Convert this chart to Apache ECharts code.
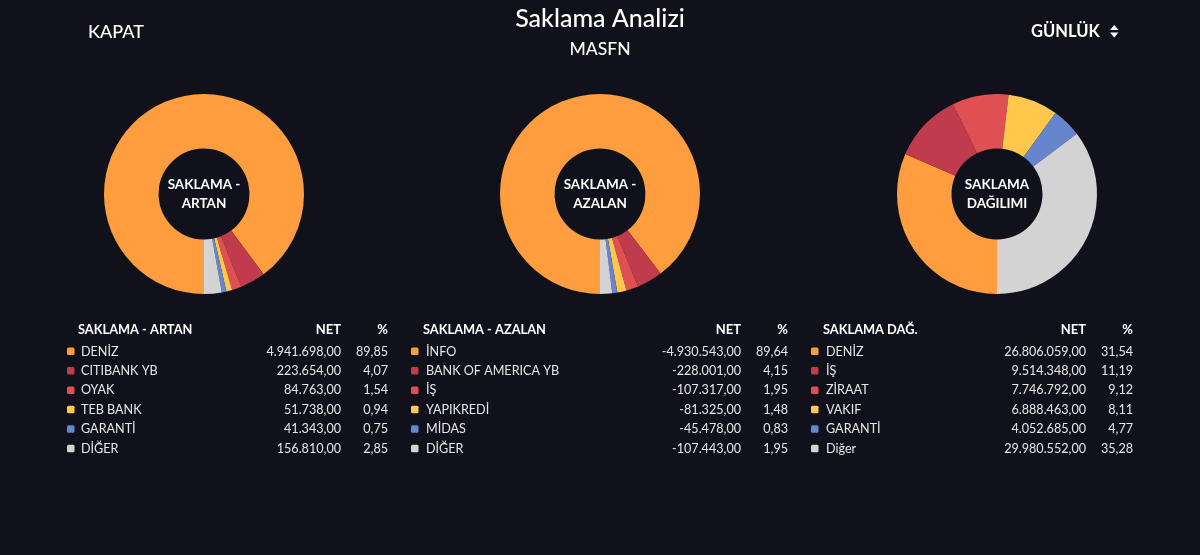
<!DOCTYPE html>
<html>
<head>
<meta charset="utf-8">
<title>Saklama Analizi</title>
<script src="https://cdn.jsdelivr.net/npm/echarts@6/dist/echarts.min.js"></script>
<style>
  html, body { margin: 0; padding: 0; background: #11111b; }
  #chart { width: 1200px; height: 555px; }
</style>
</head>
<body>
<div id="chart"></div>
<script>
// table data
const artanNames = ["DENİZ", "CITIBANK YB", "OYAK", "TEB BANK", "GARANTİ", "DİĞER"];
const artanNet = [4941698, 223654, 84763, 51738, 41343, 156810];
const artanPct = [89.85, 4.07, 1.54, 0.94, 0.75, 2.85];

const azalanNames = ["İNFO", "BANK OF AMERICA YB", "İŞ", "YAPIKREDİ", "MİDAS", "DİĞER"];
const azalanNet = [-4930543, -228001, -107317, -81325, -45478, -107443];
const azalanPct = [89.64, 4.15, 1.95, 1.48, 0.83, 1.95];

const dagilimNames = ["DENİZ", "İŞ", "ZİRAAT", "VAKIF", "GARANTİ", "Diğer"];
const dagilimNet = [26806059, 9514348, 7746792, 6888463, 4052685, 29980552];
const dagilimPct = [31.54, 11.19, 9.12, 8.11, 4.77, 35.28];

const colors = ["#ff9d3f", "#c03c4c", "#df5053", "#ffc84c", "#6585cd", "#d3d3d3"];
const BG = "#11111b";
const FONT = "Lato, 'Noto Sans', sans-serif";

const panels = [
  { center: 204, label: "SAKLAMA -\nARTAN", head: "SAKLAMA - ARTAN", names: artanNames, net: artanNet, pct: artanPct,
    box: 67, nameX: 81, headX: 78, netX: 341, pctX: 388 },
  { center: 600, label: "SAKLAMA -\nAZALAN", head: "SAKLAMA - AZALAN", names: azalanNames, net: azalanNet, pct: azalanPct,
    box: 411, nameX: 426, headX: 423, netX: 741, pctX: 788 },
  { center: 997, label: "SAKLAMA\nDAĞILIMI", head: "SAKLAMA DAĞ.", names: dagilimNames, net: dagilimNet, pct: dagilimPct,
    box: 811, nameX: 826, headX: 823, netX: 1086, pctX: 1133 }
];

const fmt = (v) => v.toLocaleString("tr-TR", { minimumFractionDigits: 2, maximumFractionDigits: 2 });

function txt(x, y, text, size, weight, align, fill) {
  return {
    type: "text", x: x, y: y, silent: true,
    style: { text: text, fill: fill || "#fff", font: (weight || 400) + " " + size + "px " + FONT,
      textAlign: align || "left", textVerticalAlign: "middle", lineHeight: 19 }
  };
}

const graphics = [
  txt(600, 19, "Saklama Analizi", 25, 500, "center"),
  txt(600, 49.5, "MASFN", 17.5, 500, "center"),
  txt(88, 32, "KAPAT", 18, 500),
  txt(1031, 31.5, "GÜNLÜK", 16.5, 700),
  { type: "polygon", silent: true, shape: { points: [[1110, 30], [1118.5, 30], [1114.2, 25]] }, style: { fill: "#fff" } },
  { type: "polygon", silent: true, shape: { points: [[1110, 32.5], [1118.5, 32.5], [1114.2, 37.5]] }, style: { fill: "#fff" } }
];

panels.forEach((p) => {
  graphics.push(txt(p.center, 194, p.label, 13.5, 700, "center"));
  graphics.push(txt(p.headX, 329.5, p.head, 12.8, 700));
  graphics.push(txt(p.netX, 329.5, "NET", 13, 700, "right"));
  graphics.push(txt(p.pctX, 329.5, "%", 13, 700, "right"));
  p.names.forEach((name, i) => {
    const y = 351.5 + i * 19.45;
    graphics.push({
      type: "rect", silent: true,
      shape: { x: p.box, y: y - 4, width: 7.5, height: 7.5, r: 1.5 },
      style: { fill: colors[i] }
    });
    graphics.push(txt(p.nameX, y, name, 12.6, 400, "left", "#e6e6e8"));
    graphics.push(txt(p.netX, y, fmt(p.net[i]), 12.6, 400, "right", "#e6e6e8"));
    graphics.push(txt(p.pctX, y, fmt(p.pct[i]), 12.6, 400, "right", "#e6e6e8"));
  });
});

const chart = echarts.init(document.getElementById("chart"));
chart.setOption({
  backgroundColor: BG,
  animation: false,
  series: panels.map((p) => ({
    type: "pie",
    center: [p.center, 194],
    radius: [45.5, 100],
    startAngle: 270,
    clockwise: true,
    label: { show: false },
    labelLine: { show: false },
    silent: true,
    data: p.names.map((name, i) => ({ name: name, value: Math.abs(p.net[i]), itemStyle: { color: colors[i] } }))
  })),
  graphic: graphics
});
</script>
</body>
</html>
